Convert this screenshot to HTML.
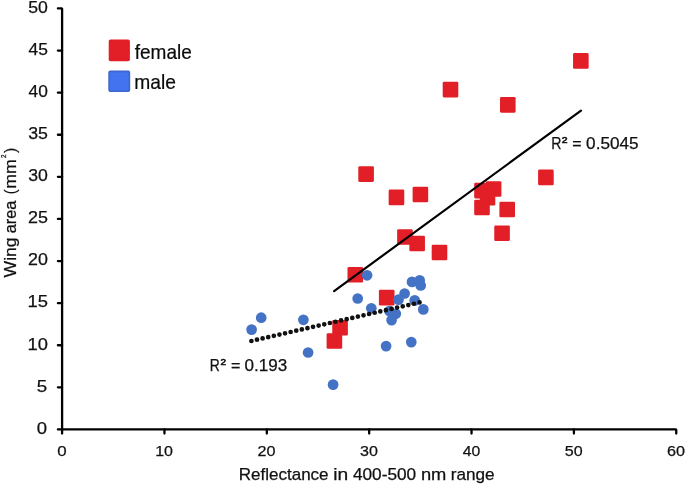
<!DOCTYPE html>
<html><head><meta charset="utf-8"><style>
html,body{margin:0;padding:0;background:#fff;}
body{width:685px;height:485px;overflow:hidden;}
svg{display:block;will-change:transform;}
text{font-family:"Liberation Sans",sans-serif;fill:#000;}
.yl{font-size:17.5px;text-anchor:end;fill:#111;}
.xl{font-size:16px;text-anchor:middle;fill:#111;}
.t{fill:#111;stroke:#111;stroke-width:0.25px;}
.tb{fill:#111;stroke:#111;stroke-width:0.6px;}
.lg{fill:#0a0a0a;stroke:#0a0a0a;stroke-width:0.2px;}
</style></head><body>
<svg width="685" height="485" viewBox="0 0 685 485">
<rect width="685" height="485" fill="#fff"/>
<path d="M57.9 8.45 H62.1 V429.45 H676.25 V433.5" stroke="#000" stroke-width="2.3" fill="none" stroke-linecap="round" stroke-linejoin="bevel"/>
<path d="M57.9 429.45H62.1M57.9 387.35H62.1M57.9 345.25H62.1M57.9 303.15H62.1M57.9 261.05H62.1M57.9 218.95H62.1M57.9 176.85H62.1M57.9 134.75H62.1M57.9 92.65H62.1M57.9 50.55H62.1M62.10 429.45V433.5M164.46 429.45V433.5M266.82 429.45V433.5M369.18 429.45V433.5M471.53 429.45V433.5M573.89 429.45V433.5" stroke="#000" stroke-width="2.3" fill="none" stroke-linecap="round" stroke-linejoin="round"/>
<text x="36.76" y="433.75" font-size="17.0" textLength="10.31" lengthAdjust="spacingAndGlyphs" class="t">0</text>
<text x="36.75" y="391.65" font-size="17.0" textLength="10.42" lengthAdjust="spacingAndGlyphs" class="t">5</text>
<text x="27.53" y="349.55" font-size="17.0" textLength="20.36" lengthAdjust="spacingAndGlyphs" class="t">10</text>
<text x="27.52" y="307.45" font-size="17.0" textLength="20.46" lengthAdjust="spacingAndGlyphs" class="t">15</text>
<text x="28.01" y="265.35" font-size="17.0" textLength="19.86" lengthAdjust="spacingAndGlyphs" class="t">20</text>
<text x="28.00" y="223.25" font-size="17.0" textLength="19.96" lengthAdjust="spacingAndGlyphs" class="t">25</text>
<text x="28.19" y="181.15" font-size="17.0" textLength="19.67" lengthAdjust="spacingAndGlyphs" class="t">30</text>
<text x="28.19" y="139.05" font-size="17.0" textLength="19.76" lengthAdjust="spacingAndGlyphs" class="t">35</text>
<text x="28.55" y="96.95" font-size="17.0" textLength="19.29" lengthAdjust="spacingAndGlyphs" class="t">40</text>
<text x="28.55" y="54.85" font-size="17.0" textLength="19.39" lengthAdjust="spacingAndGlyphs" class="t">45</text>
<text x="28.19" y="12.75" font-size="17.0" textLength="19.67" lengthAdjust="spacingAndGlyphs" class="t">50</text>
<text x="57.28" y="456.10" font-size="15.0" textLength="9.39" lengthAdjust="spacingAndGlyphs" class="t">0</text>
<text x="155.16" y="456.10" font-size="15.0" textLength="17.80" lengthAdjust="spacingAndGlyphs" class="t">10</text>
<text x="257.61" y="456.10" font-size="15.0" textLength="18.01" lengthAdjust="spacingAndGlyphs" class="t">20</text>
<text x="360.13" y="456.10" font-size="15.0" textLength="17.84" lengthAdjust="spacingAndGlyphs" class="t">30</text>
<text x="462.82" y="456.10" font-size="15.0" textLength="17.50" lengthAdjust="spacingAndGlyphs" class="t">40</text>
<text x="564.85" y="456.10" font-size="15.0" textLength="17.84" lengthAdjust="spacingAndGlyphs" class="t">50</text>
<text x="667.04" y="456.10" font-size="15.0" textLength="18.01" lengthAdjust="spacingAndGlyphs" class="t">60</text>
<rect x="573.05" y="53.10" width="15.6" height="15.6" rx="1.3" fill="#e21e26"/>
<rect x="442.70" y="81.80" width="15.6" height="15.6" rx="1.3" fill="#e21e26"/>
<rect x="500.00" y="97.05" width="15.6" height="15.6" rx="1.3" fill="#e21e26"/>
<rect x="358.30" y="166.30" width="15.6" height="15.6" rx="1.3" fill="#e21e26"/>
<rect x="538.10" y="169.60" width="15.6" height="15.6" rx="1.3" fill="#e21e26"/>
<rect x="388.65" y="189.60" width="15.6" height="15.6" rx="1.3" fill="#e21e26"/>
<rect x="412.60" y="186.75" width="15.6" height="15.6" rx="1.3" fill="#e21e26"/>
<rect x="474.20" y="182.80" width="15.6" height="15.6" rx="1.3" fill="#e21e26"/>
<rect x="485.80" y="181.20" width="15.6" height="15.6" rx="1.3" fill="#e21e26"/>
<rect x="479.70" y="189.95" width="15.6" height="15.6" rx="1.3" fill="#e21e26"/>
<rect x="474.20" y="199.70" width="15.6" height="15.6" rx="1.3" fill="#e21e26"/>
<rect x="499.40" y="201.65" width="15.6" height="15.6" rx="1.3" fill="#e21e26"/>
<rect x="397.15" y="229.15" width="15.6" height="15.6" rx="1.3" fill="#e21e26"/>
<rect x="409.35" y="235.75" width="15.6" height="15.6" rx="1.3" fill="#e21e26"/>
<rect x="494.25" y="225.45" width="15.6" height="15.6" rx="1.3" fill="#e21e26"/>
<rect x="431.70" y="244.70" width="15.6" height="15.6" rx="1.3" fill="#e21e26"/>
<rect x="347.50" y="266.95" width="15.6" height="15.6" rx="1.3" fill="#e21e26"/>
<rect x="378.90" y="289.85" width="15.6" height="15.6" rx="1.3" fill="#e21e26"/>
<rect x="332.25" y="319.90" width="15.6" height="15.6" rx="1.3" fill="#e21e26"/>
<rect x="326.60" y="333.20" width="15.6" height="15.6" rx="1.3" fill="#e21e26"/>
<circle cx="251.6" cy="329.6" r="5.35" fill="#4472c4"/>
<circle cx="261.2" cy="317.7" r="5.35" fill="#4472c4"/>
<circle cx="303.4" cy="319.8" r="5.35" fill="#4472c4"/>
<circle cx="308.1" cy="352.5" r="5.35" fill="#4472c4"/>
<circle cx="333.1" cy="384.6" r="5.35" fill="#4472c4"/>
<circle cx="367.1" cy="275.3" r="5.35" fill="#4472c4"/>
<circle cx="357.7" cy="298.5" r="5.35" fill="#4472c4"/>
<circle cx="371.3" cy="308.3" r="5.35" fill="#4472c4"/>
<circle cx="412.0" cy="281.9" r="5.35" fill="#4472c4"/>
<circle cx="419.7" cy="280.4" r="5.35" fill="#4472c4"/>
<circle cx="420.7" cy="285.5" r="5.35" fill="#4472c4"/>
<circle cx="404.6" cy="293.5" r="5.35" fill="#4472c4"/>
<circle cx="398.5" cy="299.6" r="5.35" fill="#4472c4"/>
<circle cx="414.7" cy="300.4" r="5.35" fill="#4472c4"/>
<circle cx="423.3" cy="309.4" r="5.35" fill="#4472c4"/>
<circle cx="389.4" cy="311.0" r="5.35" fill="#4472c4"/>
<circle cx="395.8" cy="313.8" r="5.35" fill="#4472c4"/>
<circle cx="391.6" cy="320.1" r="5.35" fill="#4472c4"/>
<circle cx="386.1" cy="346.1" r="5.35" fill="#4472c4"/>
<circle cx="411.3" cy="342.1" r="5.35" fill="#4472c4"/>
<line x1="334.1" y1="291.1" x2="581.0" y2="110.6" stroke="#000" stroke-width="2.2" stroke-linecap="round"/>
<line x1="251.4" y1="341.0" x2="423.3" y2="301.6" stroke="#111" stroke-width="4.7" stroke-linecap="round" stroke-dasharray="0 5.75"/>
<text x="551.32" y="148.90" font-size="17.1" textLength="10.22" lengthAdjust="spacingAndGlyphs" class="t">R</text>
<text x="561.68" y="142.50" font-size="8.8" textLength="5.80" lengthAdjust="spacingAndGlyphs" class="tb">2</text>
<text x="572.30" y="148.90" font-size="17" textLength="9.36" lengthAdjust="spacingAndGlyphs" class="t">=</text>
<text x="586.11" y="148.90" font-size="16.6" textLength="52.44" lengthAdjust="spacingAndGlyphs" class="t">0.5045</text>
<text x="209.79" y="371.40" font-size="17.1" textLength="10.04" lengthAdjust="spacingAndGlyphs" class="t">R</text>
<text x="220.60" y="364.80" font-size="8.8" textLength="5.56" lengthAdjust="spacingAndGlyphs" class="tb">2</text>
<text x="231.09" y="371.30" font-size="17" textLength="9.42" lengthAdjust="spacingAndGlyphs" class="t">=</text>
<text x="244.52" y="370.70" font-size="16.6" textLength="42.70" lengthAdjust="spacingAndGlyphs" class="t">0.193</text>
<rect x="108.7" y="39.6" width="21.2" height="21.6" rx="1.8" fill="#e21e26"/>
<rect x="109.1" y="71.4" width="20.3" height="19.9" rx="1.2" fill="#4373ee" stroke="#3e66cf" stroke-width="1.6"/>
<text x="134.71" y="58.60" font-size="19.8" textLength="57.07" lengthAdjust="spacingAndGlyphs" class="lg">female</text>
<text x="134.35" y="88.60" font-size="19.8" textLength="41.66" lengthAdjust="spacingAndGlyphs" class="lg">male</text>
<text x="238.84" y="479.80" font-size="16.2" textLength="89.74" lengthAdjust="spacingAndGlyphs" class="t">Reflectance</text>
<text x="333.35" y="479.80" font-size="16.2" textLength="14.96" lengthAdjust="spacingAndGlyphs" class="t">in</text>
<text x="352.96" y="479.80" font-size="16.2" textLength="63.25" lengthAdjust="spacingAndGlyphs" class="t">400-500</text>
<text x="420.91" y="479.80" font-size="16.2" textLength="25.47" lengthAdjust="spacingAndGlyphs" class="t">nm</text>
<text x="450.68" y="479.80" font-size="16.2" textLength="43.94" lengthAdjust="spacingAndGlyphs" class="t">range</text>
<text transform="translate(16.40 277.39) rotate(-90)" font-size="17.2" textLength="39.99" lengthAdjust="spacingAndGlyphs" class="t">Wing</text>
<text transform="translate(16.40 233.25) rotate(-90)" font-size="17.2" textLength="32.68" lengthAdjust="spacingAndGlyphs" class="t">area</text>
<text transform="translate(16.40 194.26) rotate(-90)" font-size="17.2" textLength="4.78" lengthAdjust="spacingAndGlyphs" class="t">(</text>
<text transform="translate(16.40 188.65) rotate(-90)" font-size="17.2" textLength="29.54" lengthAdjust="spacingAndGlyphs" class="t">mm</text>
<text transform="translate(16.40 152.96) rotate(-90)" font-size="17.2" textLength="5.25" lengthAdjust="spacingAndGlyphs" class="t">)</text>
<text transform="translate(6.20 158.02) rotate(-90)" font-size="7.8" textLength="3.51" lengthAdjust="spacingAndGlyphs" class="t">2</text>
</svg>
</body></html>
